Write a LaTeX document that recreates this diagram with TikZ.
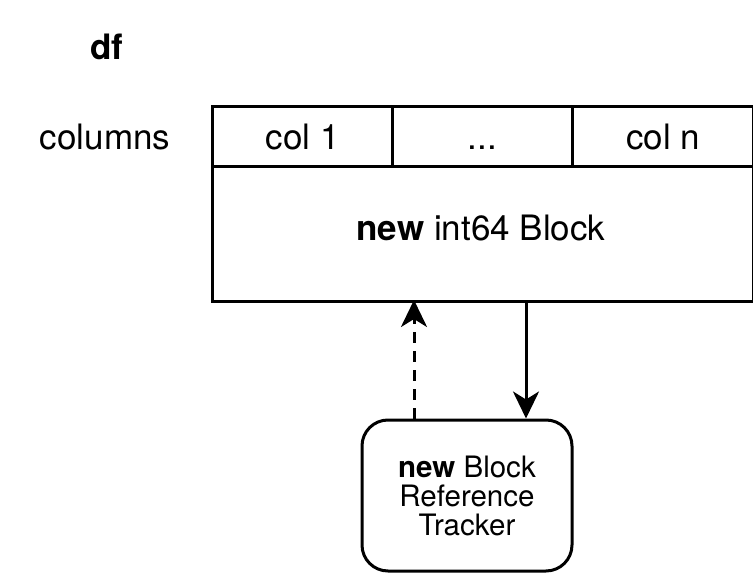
\documentclass[tikz,border=0pt]{standalone}
\usepackage{fontspec}
\setmainfont{TeX Gyre Heros}
\usetikzlibrary{arrows.meta}
\begin{document}
\begin{tikzpicture}[x=1pt,y=-1pt,
  line width=3pt,
  lbl/.style={font=\fontsize{35}{42}\selectfont, inner sep=0pt, text height=25pt, text depth=0pt},
  cell/.style={draw, line width=3pt, inner sep=0pt, anchor=north west},
  tip/.style={-{Stealth[length=27pt,width=26pt,inset=8pt]}},
]
\useasboundingbox (0,0) rectangle (753,573);
% main block
\node[cell, minimum width=541pt, minimum height=195pt] (block) at (211,105) {};
\node[cell, minimum width=180pt, minimum height=60pt] (c1) at (211,105) {};
\node[cell, minimum width=180pt, minimum height=60pt] (cd) at (391,105) {};
\node[cell, minimum width=181pt, minimum height=60pt] (cn) at (571,105) {};
\node[lbl] at (c1.center) {col 1};
\node[lbl] at (cd.center) {...};
\node[lbl] at (cn.center) {col n};
\node[lbl] (body) at (481,228) {\textbf{new} int64 Block};
\node[lbl] (df) at (107,47) {\textbf{df}};
\node[lbl] (cols) at (105,137) {columns};
% tracker
\node[draw, line width=3pt, rounded corners=26pt, minimum width=210pt, minimum height=151pt,
  align=center, font=\fontsize{29.5}{29}\selectfont, inner sep=0pt] (tr) at (467,495.5)
  {\textbf{new} Block\\Reference\\Tracker};
% connectors
\coordinate (dtop) at (414,300);
\coordinate (stop) at (526,300);
\draw[tip, dash pattern=on 11pt off 8pt] (tr.north -| dtop) -- (dtop);
\draw[tip] (stop) -- (tr.north -| stop);
\end{tikzpicture}
\end{document}
